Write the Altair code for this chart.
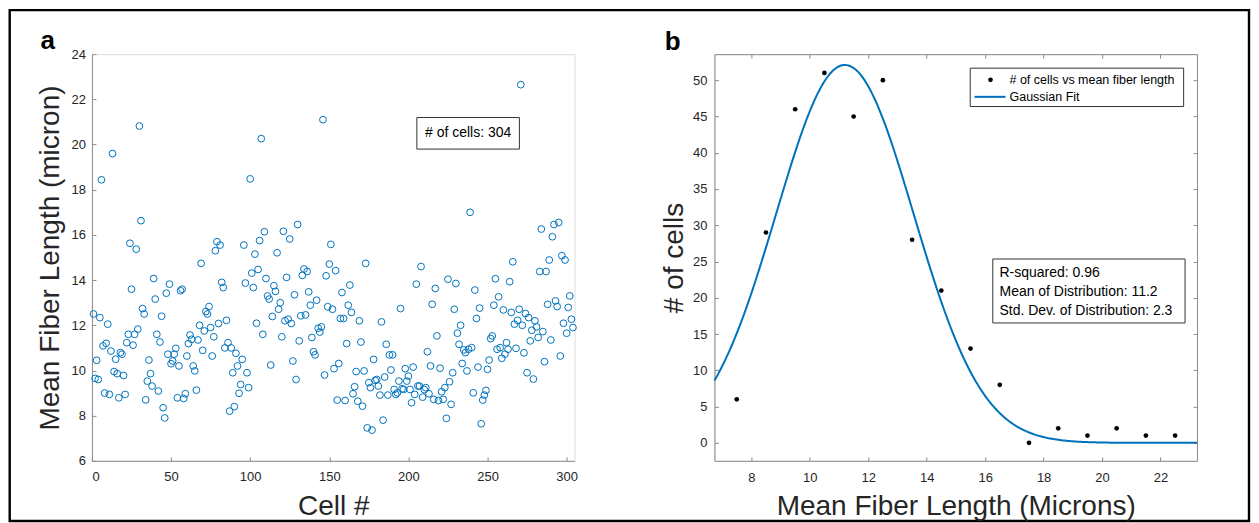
import altair as alt
import numpy as np
import pandas as pd

FONT = "Liberation Sans"
TXT = "#262626"
AX = "#8c8c8c"
BLUE = "#0072BD"

# ---------------- panel a data: mean fiber length per cell ----------------
cell_lengths = [
    12.5, 9.65, 10.45, 9.6, 12.34, 18.44, 11.09, 9.0, 11.2, 12.05,
    8.94, 10.86, 19.6, 9.95, 10.5, 9.86, 8.79, 10.79, 10.72, 9.78,
    8.94, 11.23, 11.6, 15.63, 13.6, 11.12, 11.6, 15.37, 11.83, 20.82,
    16.63, 12.74, 12.5, 8.7, 9.53, 10.46, 9.86, 9.31, 14.07, 13.16,
    11.6, 9.09, 11.26, 12.4, 8.35, 7.9, 13.42, 10.72, 13.82, 10.3,
    10.42, 10.72, 10.98, 8.79, 10.2, 13.53, 13.6, 8.76, 8.97, 10.64,
    11.19, 11.57, 11.38, 10.2, 9.98, 9.13, 11.35, 12.0, 14.74, 10.89,
    11.75, 12.61, 12.5, 12.83, 11.9, 10.64, 11.49, 15.3, 15.7, 12.08,
    15.55, 13.9, 13.67, 11.0, 12.22, 11.23, 8.2, 11.0, 9.9, 8.4,
    10.76, 10.2, 8.99, 9.38, 10.49, 15.55, 13.87, 9.9, 9.24, 18.48,
    14.31, 13.67, 15.15, 12.09, 14.47, 15.75, 20.26, 11.6, 16.14, 14.07,
    13.3, 13.16, 10.24, 12.39, 13.75, 13.5, 15.21, 12.71, 13.0, 11.49,
    16.16, 12.2, 14.12, 12.27, 15.82, 12.08, 10.42, 13.35, 9.6, 16.46,
    11.31, 12.42, 14.21, 14.49, 12.46, 14.38, 13.48, 12.89, 11.46, 10.83,
    10.69, 13.11, 11.87, 11.7, 11.93, 21.1, 9.8, 14.19, 12.82, 14.71,
    15.58, 12.71, 10.08, 14.42, 8.69, 10.31, 12.3, 13.45, 12.3, 8.67,
    11.19, 12.89, 13.78, 12.57, 8.97, 9.28, 9.95, 8.64, 12.2, 11.26,
    8.42, 9.98, 14.74, 7.46, 9.46, 9.24, 7.36, 10.49, 9.56, 9.6,
    9.31, 8.91, 12.15, 7.8, 9.71, 11.16, 8.91, 10.69, 10.02, 10.69,
    9.16, 8.94, 9.01, 9.53, 12.74, 9.19, 9.16, 10.08, 9.53, 9.75,
    9.16, 8.57, 10.15, 8.94, 13.82, 9.31, 9.31, 14.6, 8.82, 9.16,
    9.24, 10.83, 8.97, 10.2, 12.93, 8.72, 13.63, 11.53, 8.67, 10.1,
    9.06, 8.72, 9.24, 7.88, 14.04, 9.5, 8.5, 9.9, 12.71, 13.85,
    11.65, 11.16, 12.0, 10.31, 10.91, 10.79, 9.98, 10.94, 17.0, 11.01,
    9.01, 13.56, 12.3, 10.15, 12.76, 7.64, 8.69, 8.91, 9.12, 10.05,
    10.46, 11.41, 11.53, 12.89, 14.06, 10.94, 13.26, 11.01, 10.54, 12.68,
    10.72, 11.23, 10.94, 13.93, 12.57, 14.81, 12.05, 10.98, 12.22, 12.71,
    22.65, 12.0, 10.78, 12.52, 9.9, 12.34, 11.31, 11.78, 9.62, 12.2,
    11.93, 11.46, 14.38, 16.26, 11.72, 10.39, 14.38, 12.93, 14.89, 11.35,
    15.92, 16.46, 13.08, 12.83, 16.55, 10.64, 15.08, 12.09, 14.89, 11.65,
    12.79, 13.3, 12.27, 11.9,
]
cell_numbers = list(range(1, len(cell_lengths) + 1))
a_x_ticks = [0, 50, 100, 150, 200, 250, 300]
a_y_ticks = [6, 8, 10, 12, 14, 16, 18, 20, 22, 24]

# ---------------- panel b data: histogram + gaussian fit ----------------
bin_centers = [7.5, 8.5, 9.5, 10.5, 11.5, 12.5, 13.5, 14.5, 15.5, 16.5,
               17.5, 18.5, 19.5, 20.5, 21.5, 22.5]
bin_counts = [6, 29, 46, 51, 45, 50, 28, 21, 13, 8, 0, 2, 1, 2, 1, 1]
fit_amplitude = 52.1
fit_mean = 11.2
fit_sigma = 2.35
b_x_ticks = [8, 10, 12, 14, 16, 18, 20, 22]
b_y_ticks = [0, 5, 10, 15, 20, 25, 30, 35, 40, 45, 50]
legend_labels = ["# of cells vs mean fiber length", "Gaussian Fit"]
stats_lines = ["R-squared: 0.96", "Mean of Distribution: 11.2",
               "Std. Dev. of Distribution: 2.3"]

W, H = 483, 407
A_XDOM = [0, 305]
A_YDOM = [6, 24]
B_XDOM = [6.737, 23.25]
B_YDOM = [-2.48, 53.59]

lab = dict(grid=False, labelFont=FONT, labelFontSize=13, labelColor=TXT,
           titleFont=FONT, titleFontWeight="normal", titleColor=TXT,
           domainColor=AX, domainWidth=1, ticks=False, tickSize=0)
tk = dict(grid=False, labels=False, title=None, tickSize=4, tickColor=AX,
          tickWidth=1, domainColor=AX, domainWidth=1)

# ---------------- panel a ----------------
df_a = pd.DataFrame({"cell": cell_numbers, "len": cell_lengths})
ax_sc = alt.Scale(domain=A_XDOM, nice=False, zero=False)
ay_sc = alt.Scale(domain=A_YDOM, nice=False, zero=False)
scatter = alt.Chart(df_a).mark_point(
    shape="circle", filled=False, size=46, strokeWidth=1, color=BLUE, opacity=1
).encode(
    x=alt.X("cell:Q", scale=ax_sc,
            axis=alt.Axis(orient="bottom", values=a_x_ticks, title="Cell #",
                          titleFontSize=28, labelPadding=9.7, titlePadding=9, **lab)),
    y=alt.Y("len:Q", scale=ay_sc,
            axis=alt.Axis(orient="left", values=a_y_ticks,
                          title="Mean Fiber Length (micron)", titleFontSize=28,
                          labelPadding=6.5, titlePadding=6.5, **lab)),
)
ticks_a = alt.Chart(df_a).mark_point(opacity=0).encode(
    x=alt.X("cell:Q", scale=ax_sc,
            axis=alt.Axis(orient="top", offset=-H, values=a_x_ticks, domain=False, **tk)),
    y=alt.Y("len:Q", scale=ay_sc,
            axis=alt.Axis(orient="right", offset=-W, values=a_y_ticks, domain=False, **tk)),
)

one = pd.DataFrame({"t": [""]})
border = alt.Chart(one).mark_rect(filled=False, stroke="black", strokeWidth=2.4).encode(
    x=alt.value(-82.3), x2=alt.value(1158), y=alt.value(-44.1), y2=alt.value(467.2))
label_a = alt.Chart(pd.DataFrame({"t": ["a"]})).mark_text(
    font=FONT, fontSize=26, fontWeight="bold", align="left", baseline="alphabetic",
    color="black").encode(text="t:N", x=alt.value(-51.5), y=alt.value(-5.3))
box_a = alt.Chart(one).mark_rect(fill="white", stroke="#333", strokeWidth=1).encode(
    x=alt.value(325.2), x2=alt.value(427.8), y=alt.value(63.4), y2=alt.value(95))
text_a = alt.Chart(pd.DataFrame({"t": ["# of cells: " + str(len(cell_lengths))]})).mark_text(
    font=FONT, fontSize=14, align="center", baseline="middle", color="black"
).encode(text="t:N", x=alt.value(376.5), y=alt.value(79))

panel_a = alt.layer(scatter, ticks_a, box_a, text_a, label_a, border).resolve_scale(
    x="independent", y="independent").properties(width=W, height=H)

# ---------------- panel b ----------------
df_pts = pd.DataFrame({"len": bin_centers, "count": bin_counts})
xs = np.linspace(B_XDOM[0], B_XDOM[1], 300)
df_fit = pd.DataFrame({
    "len": xs,
    "count": fit_amplitude * np.exp(-((xs - fit_mean) ** 2) / (2 * fit_sigma ** 2)),
})

bx = alt.Scale(domain=B_XDOM, nice=False, zero=False)
by = alt.Scale(domain=B_YDOM, nice=False, zero=False)
pts = alt.Chart(df_pts).mark_point(filled=True, size=22, color="black", opacity=1).encode(
    x=alt.X("len:Q", scale=bx,
            axis=alt.Axis(orient="bottom", values=b_x_ticks,
                          title="Mean Fiber Length (Microns)", titleFontSize=28,
                          labelPadding=10.7, titlePadding=8, **lab)),
    y=alt.Y("count:Q", scale=by,
            axis=alt.Axis(orient="left", values=b_y_ticks, title="# of cells",
                          titleFontSize=28, labelPadding=7.4, titlePadding=3.8, **lab)),
)
fit = alt.Chart(df_fit).mark_line(strokeWidth=2, color=BLUE).encode(
    x=alt.X("len:Q", scale=bx),
    y=alt.Y("count:Q", scale=by),
)
data_b = alt.layer(fit, pts)

ticks_b1 = alt.Chart(df_pts).mark_point(opacity=0).encode(
    x=alt.X("len:Q", scale=bx,
            axis=alt.Axis(orient="top", offset=-H, values=b_x_ticks, domain=False, **tk)),
    y=alt.Y("count:Q", scale=by,
            axis=alt.Axis(orient="right", offset=-W, values=b_y_ticks, domain=False, **tk)),
)
ticks_b2 = alt.Chart(df_pts).mark_point(opacity=0).encode(
    x=alt.X("len:Q", scale=bx,
            axis=alt.Axis(orient="bottom", offset=-H, values=b_x_ticks, domain=True, **tk)),
    y=alt.Y("count:Q", scale=by,
            axis=alt.Axis(orient="left", offset=-W, values=b_y_ticks, domain=True, **tk)),
)

# legend (box, marker, line sample, labels)
leg_box = alt.Chart(one).mark_rect(fill="white", stroke="#333", strokeWidth=1).encode(
    x=alt.value(256), x2=alt.value(469.6), y=alt.value(14), y2=alt.value(52.4))
leg_dot = alt.Chart(one).mark_point(filled=True, size=22, color="black", opacity=1).encode(
    x=alt.value(276.3), y=alt.value(25.7))
leg_line = alt.Chart(one).mark_rule(color=BLUE, strokeWidth=2).encode(
    x=alt.value(260.3), x2=alt.value(291.3), y=alt.value(42.7))
df_leg = pd.DataFrame({"t": legend_labels, "row": [0, 1]})
leg_text = alt.Chart(df_leg).mark_text(
    font=FONT, fontSize=12.5, align="left", baseline="middle", color="black"
).encode(text="t:N", x=alt.value(295.3),
         y=alt.Y("row:Q", scale=alt.Scale(domain=[0, 1], range=[25.7, 42.7]), axis=None))

box_b = alt.Chart(one).mark_rect(fill="white", stroke="#333", strokeWidth=1).encode(
    x=alt.value(278.6), x2=alt.value(471), y=alt.value(205), y2=alt.value(269))
df_stats = pd.DataFrame({"t": stats_lines, "row": [0, 1, 2]})
text_b = alt.Chart(df_stats).mark_text(
    font=FONT, fontSize=14, align="left", baseline="middle", color="black"
).encode(text="t:N", x=alt.value(285.3),
         y=alt.Y("row:Q", scale=alt.Scale(domain=[0, 2], range=[219.4, 256.7]), axis=None))
label_b = alt.Chart(pd.DataFrame({"t": ["b"]})).mark_text(
    font=FONT, fontSize=26, fontWeight="bold", align="left", baseline="alphabetic",
    color="black").encode(text="t:N", x=alt.value(-49.7), y=alt.value(-4.3))

panel_b = alt.layer(data_b, ticks_b1, ticks_b2, box_b, text_b,
                    leg_box, leg_dot, leg_line, leg_text, label_b).resolve_scale(
    x="independent", y="independent").properties(width=W, height=H)

chart = alt.hconcat(panel_a, panel_b, spacing=140, bounds="flush").properties(
    padding={"left": 0, "top": 0, "right": 0, "bottom": 0}
).configure_view(strokeWidth=0).configure(font=FONT, background="white")

chart.save("out.html", embed_options={"renderer": "svg", "actions": False})
